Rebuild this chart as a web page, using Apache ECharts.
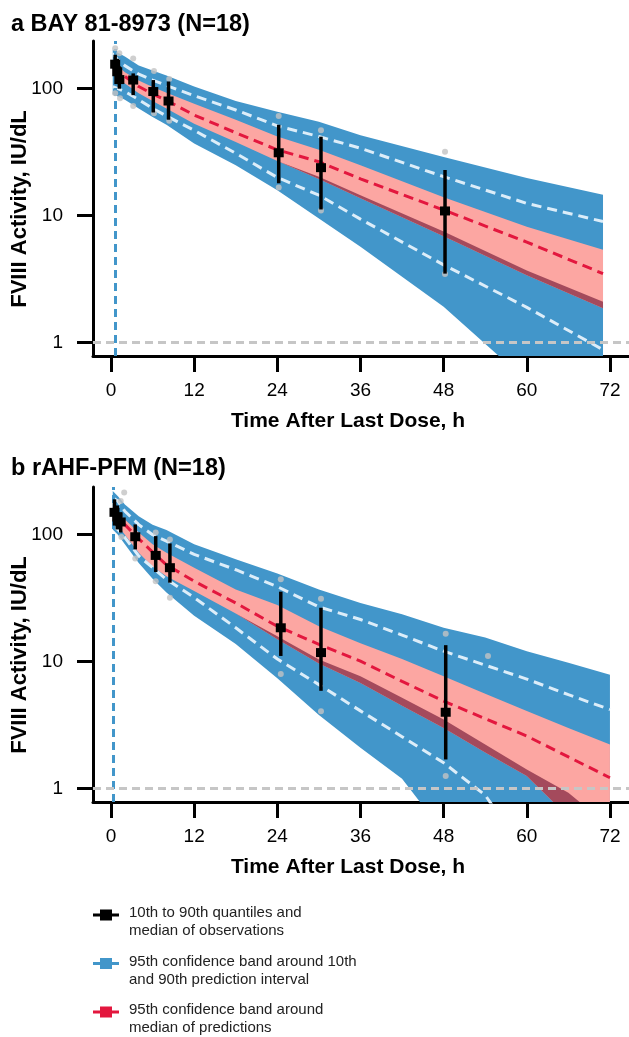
<!DOCTYPE html>
<html><head><meta charset="utf-8">
<script src="https://cdn.jsdelivr.net/npm/echarts@6/dist/echarts.min.js"></script>
<style>html,body{margin:0;padding:0;background:#fff}#c{width:629px;height:1037px}</style>
</head><body><div id="c"></div>
<script>
// ---------- Panel a : BAY 81-8973 ----------
const predTimeA  = [0.25, 1, 2, 4, 6, 8, 12, 18, 24, 30, 36, 48, 60, 71];
const pi90UpperA = [204, 192, 179, 152, 139, 127, 104, 80, 66, 55, 43, 29, 19.8, 14.6];
const p90MedianA = [190, 168, 152, 130, 117, 106, 88, 68, 51, 42, 34, 20.3, 12.5, 9.0];
const pi90LowerA = [165, 150, 135, 116, 103, 93, 76, 57, 42, 33, 25, 14, 8.2, 5.4];
const p50MedianA = [150, 136, 125, 104, 91, 81, 62, 45, 33, 26.6, 19.5, 11.1, 6.2, 3.5];
const pi10UpperA = [130, 118, 110, 92, 80, 70, 53, 38, 27, 20.3, 14.5, 7.5, 3.7, 2.1];
const pi50LowerA = [130, 118, 110, 92, 80, 70, 53, 38, 27, 19.5, 13.7, 6.9, 3.4, 1.87];
const p10MedianA = [104, 100, 95, 82, 70, 61, 47, 31, 20, 14.5, 9.4, 4.1, 1.9, 0.88];
const pi10LowerA = [90, 87, 82, 70, 60, 52, 37, 25, 15.9, 9.5, 5.7, 1.92, 0.5, 0.13];
const obsTimeA = [0.6, 0.9, 1.2, 3.2, 6.1, 8.3, 24.2, 30.3, 48.2];
const obsMedA  = [156, 136, 118, 117, 95, 80, 31.3, 23.9, 10.9];
const obsP10A  = [128, 110, 100, 89, 65, 57, 18, 11.2, 3.5];
const obsP90A  = [185, 172, 150, 132, 117, 114, 52, 41.9, 22.9];
const dotTimeA = [0.6, 1.2, 0.6, 1.3, 3.2, 3.2, 6.2, 6.2, 8.4, 8.4, 24.2, 24.2, 30.3, 30.3, 48.2, 48.2];
const dotValA  = [208, 190, 92, 84, 173, 73, 138, 64, 119, 56, 61, 16.7, 47, 11, 31.9, 3.47];
const vlineA = 0.55;

// ---------- Panel b : rAHF-PFM ----------
const predTimeB  = [0.25, 1, 2, 4, 6, 8, 12, 18, 24, 30, 36, 42, 48, 54, 60, 66, 72];
const pi90UpperB = [221, 201, 173, 140, 120, 109, 84, 64, 49.6, 37, 29, 23.6, 18.5, 15.5, 12.1, 9.8, 7.9];
const p90MedianB = [195, 184, 153, 120, 100, 89, 70, 53, 39, 27, 21.5, 16.2, 12.1, 9.4, 7.3, 5.5, 4.2];
const pi90LowerB = [165, 150, 132, 104, 84, 72, 55, 37, 28, 19, 14, 10.5, 7.7, 5.6, 4.1, 3.0, 2.23];
const p50MedianB = [150, 135, 120, 93, 73, 58, 43, 29, 19, 13.7, 10.1, 7.0, 4.9, 3.56, 2.6, 1.78, 1.22];
const pi10UpperB = [128, 118, 100, 72, 56, 47, 36, 24, 15.9, 10.4, 7.7, 5.2, 3.5, 2.23, 1.42, 0.93, 0.5];
const pi50LowerB = [128, 118, 100, 72, 56, 47, 36, 24, 15, 9.7, 6.8, 4.5, 3.0, 1.93, 1.26, 0.6, 0.35];
const p10MedianB = [118, 110, 95, 68, 55, 44.5, 32, 18.5, 10.5, 6.6, 4.1, 2.57, 1.6, 0.89, 0.3, 0.12, 0.05];
const pi10LowerB = [110, 100, 84, 60, 45, 35, 23, 13.8, 7.4, 3.8, 2.1, 1.2, 0.45, 0.2, 0.1, 0.05, 0.03];
const obsTimeB = [0.5, 0.9, 1.4, 3.5, 6.45, 8.5, 24.5, 30.3, 48.3];
const obsMedB  = [150, 138, 126, 96.4, 68.7, 55, 18.5, 11.8, 4.0];
const obsP10B  = [118, 110, 104, 76.6, 50.8, 41.9, 11.1, 5.9, 1.70];
const obsP90B  = [190, 170, 150, 120.5, 97.5, 85.4, 35.6, 26.6, 13.5];
const dotTimeB = [1.4, 1.9, 1.5, 3.5, 6.45, 6.45, 8.5, 8.5, 24.5, 24.5, 30.3, 30.3, 48.3, 48.3, 54.4];
const dotValB  = [184, 215, 96, 65, 104, 43, 91.8, 31.9, 44.5, 8.0, 31.3, 4.08, 16.6, 1.26, 11.1];
const vlineB = 0.33;

// ---------- axes ----------
const xTicks = [0, 12, 24, 36, 48, 60, 72];
const yTicks = [1, 10, 100];
const xRange = [-2.6, 74.75];
const yRange = [0.786, 237.5];
const lloq = 1;

const titles = ['a BAY 81-8973 (N=18)', 'b rAHF-PFM (N=18)'];
const xName = 'Time After Last Dose, h';
const yName = 'FVIII Activity, IU/dL';
const legendText = {
  obs: '10th to 90th quantiles and\nmedian of observations',
  pi: '95th confidence band around 10th\nand 90th prediction interval',
  med: '95th confidence band around\nmedian of predictions'
};

// ---------- build ----------
const FONT = 'Liberation Sans, Arial, Helvetica, sans-serif';
const BLUE = '#4296ca', PINK = '#fca6a2', MAROON = '#a44a5c', RED = '#e3173e', WHITE = '#dcedf9', GREY = '#c6c6c6';

const panels = [
  {t: predTimeA, hi90: pi90UpperA, m90: p90MedianA, lo90: pi90LowerA, m50: p50MedianA, hi10: pi10UpperA, lo50: pi50LowerA, m10: p10MedianA, lo10: pi10LowerA,
   ot: obsTimeA, om: obsMedA, o10: obsP10A, o90: obsP90A, dt: dotTimeA, dv: dotValA, vline: vlineA},
  {t: predTimeB, hi90: pi90UpperB, m90: p90MedianB, lo90: pi90LowerB, m50: p50MedianB, hi10: pi10UpperB, lo50: pi50LowerB, m10: p10MedianB, lo10: pi10LowerB,
   ot: obsTimeB, om: obsMedB, o10: obsP10B, o90: obsP90B, dt: dotTimeB, dv: dotValB, vline: vlineB}
];

function bandRender(P) {
  return function (params, api) {
    if (params.dataIndex !== 0) return null;
    const pts = arr => P.t.map((t, i) => api.coord([t, arr[i]]));
    const poly = (up, low, color) => ({
      type: 'polygon', shape: {points: pts(up).concat(pts(low).reverse())}, style: {fill: color}
    });
    const maroonTop = P.hi10.map((v, i) => Math.min(v, P.lo90[i]));
    const cs = params.coordSys;
    return {
      type: 'group',
      clipPath: {type: 'rect', shape: {x: cs.x, y: cs.y, width: cs.width, height: cs.height}},
      children: [poly(P.hi90, P.lo10, BLUE), poly(P.lo90, P.lo50, PINK), poly(maroonTop, P.lo50, MAROON)]
    };
  };
}
function errRender(params, api) {
  const t = api.value(0);
  const pLo = api.coord([t, api.value(1)]), pM = api.coord([t, api.value(2)]), pHi = api.coord([t, api.value(3)]);
  return {type: 'group', children: [
    {type: 'line', shape: {x1: pLo[0], y1: pLo[1], x2: pHi[0], y2: pHi[1]}, style: {stroke: '#000', lineWidth: 3.5}},
    {type: 'rect', shape: {x: pM[0] - 5, y: pM[1] - 4.5, width: 10, height: 9}, style: {fill: '#000'}}
  ]};
}

const grids = [], xAxes = [], yAxes = [], series = [];
const gridTops = [41, 487];
panels.forEach((P, gi) => {
  grids.push({left: 93, top: gridTops[gi], width: 536, height: 315, containLabel: false, outerBoundsMode: 'none'});
  xAxes.push({type: 'value', gridIndex: gi, min: xRange[0], max: xRange[1],
    axisLine: {onZero: false, lineStyle: {color: '#000', width: 3}},
    axisTick: {length: 16, lineStyle: {color: '#000', width: 3}, customValues: xTicks},
    axisLabel: {customValues: xTicks, fontSize: 19, color: '#000', margin: 25, fontFamily: FONT},
    splitLine: {show: false}});
  yAxes.push({type: 'log', logBase: 10, gridIndex: gi, min: yRange[0], max: yRange[1],
    axisLine: {onZero: false, lineStyle: {color: '#000', width: 3}},
    axisTick: {length: 16, lineStyle: {color: '#000', width: 3}, customValues: yTicks},
    axisLabel: {customValues: yTicks, fontSize: 19, color: '#000', margin: 30, fontFamily: FONT,
      formatter: v => String(Math.round(v))},
    splitLine: {show: false}, minorTick: {show: false}});
  const ax = {xAxisIndex: gi, yAxisIndex: gi};
  series.push(Object.assign({type: 'line', name: 'vline' + gi, data: [], z: 1, silent: true,
    markLine: {silent: true, symbol: ['none', 'none'], label: {show: false}, animation: false,
      lineStyle: {color: BLUE, width: 3, type: [8, 5]}, data: [{xAxis: P.vline}]}}, ax));
  series.push(Object.assign({type: 'custom', name: 'pi', z: 2, silent: true, renderItem: bandRender(P),
    data: P.t.map((t, i) => [t, P.lo10[i], P.hi90[i]]), encode: {x: 0, y: [1, 2]}}, ax));
  const dashed = (name, arr, color) => Object.assign({type: 'line', name: name, z: 3, symbol: 'none', silent: true, clip: true,
    data: P.t.map((t, i) => [t, arr[i]]), lineStyle: {color: color, width: 3, type: [10, 6], cap: 'butt'}}, ax);
  series.push(dashed('p90line' + gi, P.m90, WHITE));
  series.push(dashed('p10line' + gi, P.m10, WHITE));
  series.push(dashed('med', P.m50, RED));
  series.push(Object.assign({type: 'line', name: 'lloq' + gi, data: [], z: 4, silent: true,
    markLine: {silent: true, symbol: ['none', 'none'], label: {show: false}, animation: false,
      lineStyle: {color: GREY, width: 3, type: [8, 5]}, data: [{yAxis: lloq}]}}, ax));
  series.push(Object.assign({type: 'scatter', name: 'dots' + gi, z: 5, silent: true, symbolSize: 6,
    itemStyle: {color: '#c3c3c3'}, data: P.dt.map((t, i) => [t, P.dv[i]])}, ax));
  series.push(Object.assign({type: 'custom', name: 'obs', z: 6, silent: true, renderItem: errRender,
    data: P.ot.map((t, i) => [t, P.o10[i], P.om[i], P.o90[i]]), encode: {x: 0, y: [1, 2, 3]}}, ax));
});

const ICON = 'path://M0,0L0.01,0L0,0.01Z M31,30L30.99,30L31,29.99Z M0,6.5L26,6.5L26,9.5L0,9.5Z M7,2.5L19,2.5L19,13.5L7,13.5Z';

const txt = (text, x, y, size, rot) => ({type: 'text', x: x, y: y, rotation: rot || 0, silent: true,
  style: {text: text, fontSize: size, fontWeight: 'bold', fontFamily: FONT, fill: '#000',
    align: 'center', verticalAlign: 'middle', textAlign: 'center', textVerticalAlign: 'middle'}});

const option = {
  animation: false,
  backgroundColor: '#fff',
  title: titles.map((t, i) => ({text: t, left: 11, top: [12.75, 456.75][i], padding: 0,
    textStyle: {fontSize: 23.5, fontWeight: 'bold', color: '#000', fontFamily: FONT}})),
  grid: grids, xAxis: xAxes, yAxis: yAxes, series: series,
  legend: {left: 93, top: 904, orient: 'vertical', itemWidth: 31, itemHeight: 30, itemGap: 12.5, padding: 0,
    selectedMode: false, textStyle: {fontSize: 15, lineHeight: 18, color: '#222', fontFamily: FONT},
    formatter: n => legendText[n],
    data: [
      {name: 'obs', icon: ICON, itemStyle: {color: '#000', borderWidth: 0}},
      {name: 'pi', icon: ICON, itemStyle: {color: BLUE, borderWidth: 0}},
      {name: 'med', icon: ICON, itemStyle: {color: RED, borderWidth: 0}}
    ]},
  graphic: [txt(yName, 20, 209, 22, Math.PI / 2), txt(yName, 20, 655, 22, Math.PI / 2),
            txt(xName, 348, 421, 21), txt(xName, 348, 867, 21)]
};
const chart = echarts.init(document.getElementById('c'), null, {renderer: 'canvas'});
chart.setOption(option);
</script></body></html>
